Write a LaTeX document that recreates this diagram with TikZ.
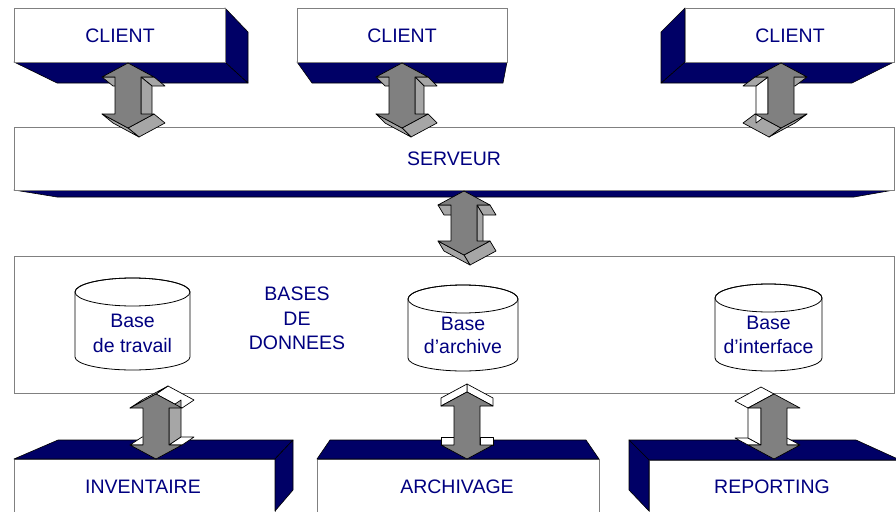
\documentclass[tikz,border=0pt]{standalone}
\usepackage{fontspec}
\setmainfont{Liberation Sans}
\definecolor{navy}{RGB}{0,0,128}
\definecolor{darkface}{RGB}{0,0,102}
\definecolor{boxline}{RGB}{128,128,128}
\definecolor{frontgray}{RGB}{128,128,128}
\definecolor{facegray}{RGB}{166,166,166}
\tikzset{
 lbl/.style={text=navy,font=\fontsize{19.5}{23}\selectfont,inner sep=0pt,anchor=base},
 frontface/.style={fill=white,draw=boxline,line width=0.9pt},
 darkside/.style={fill=darkface,draw=black,line width=0.6pt,line join=round},
 arrline/.style={draw=black,line width=0.7pt,line join=round},
 cyl/.style={fill=white,draw=black,line width=0.8pt}
}
\def\aHw{26}\def\aSw{13}\def\aHl{14}
\newcommand\afface[4]{%
  \pgfmathsetmacro\afnx{(#4)-(#2)}%
  \pgfmathsetmacro\afny{(#1)-(#3)}%
  \pgfmathsetmacro\afdot{\afnx*(\adx)+\afny*(\ady)}%
  \ifdim\afdot pt>0.01pt
    \pgfmathsetmacro\afwhite{((\afny+0.01<0)||((abs(\afny)<0.01)&&(\afnx<0)))?1:0}%
    \ifdim\afwhite pt>0.5pt \def\afcol{white}\else\def\afcol{facegray}\fi
    \filldraw[fill=\afcol,arrline] (#1,#2) -- (#3,#4) -- ({#3+\adx},{#4+\ady}) -- ({#1+\adx},{#2+\ady}) -- cycle;
  \fi}
\newcommand\dblarrow[5]{%
  \def\adx{#4}\def\ady{#5}%
  \pgfmathsetmacro\aL{#1-\aHw}\pgfmathsetmacro\aR{#1+\aHw}%
  \pgfmathsetmacro\asL{#1-\aSw}\pgfmathsetmacro\asR{#1+\aSw}%
  \pgfmathsetmacro\aYa{#2+\aHl}\pgfmathsetmacro\aYb{#3-\aHl}%
  \afface{#1}{#2}{\aR}{\aYa}%
  \afface{\aR}{\aYa}{\asR}{\aYa}%
  \afface{\asR}{\aYa}{\asR}{\aYb}%
  \afface{\asR}{\aYb}{\aR}{\aYb}%
  \afface{\aR}{\aYb}{#1}{#3}%
  \afface{#1}{#3}{\aL}{\aYb}%
  \afface{\aL}{\aYb}{\asL}{\aYb}%
  \afface{\asL}{\aYb}{\asL}{\aYa}%
  \afface{\asL}{\aYa}{\aL}{\aYa}%
  \afface{\aL}{\aYa}{#1}{#2}%
  \filldraw[fill=frontgray,arrline] (#1,#2) -- (\aR,\aYa) -- (\asR,\aYa) -- (\asR,\aYb) -- (\aR,\aYb) -- (#1,#3) -- (\aL,\aYb) -- (\asL,\aYb) -- (\asL,\aYa) -- (\aL,\aYa) -- cycle;
}
% cylinder: cx, rx, ytop, ybot
\newcommand\dbcyl[4]{%
  \pgfmathsetmacro\cyL{#1-#2}\pgfmathsetmacro\cyR{#1+#2}%
  \path[cyl] (\cyL,#3) -- (\cyL,#4) arc[start angle=180,end angle=360,x radius=#2pt,y radius=13pt] -- (\cyR,#3) arc[start angle=0,end angle=180,x radius=#2pt,y radius=14pt] -- cycle;
  \draw[line width=0.8pt] (#1,#3) ellipse[x radius=#2pt,y radius=14pt];
}
\begin{document}
\begin{tikzpicture}[x=1pt,y=-1pt]
\useasboundingbox (0,0) rectangle (896,511);
\clip (0,0) rectangle (896,511);
% ---------- clients
\path[darkside] (14,62) -- (225,62) -- (248,83) -- (57,83) -- cycle;
\path[darkside] (225,8) -- (248,32) -- (248,83) -- (225,62) -- cycle;
\path[frontface] (14,8) rectangle (225,62);
\node[lbl] (client1) at (120,42) {CLIENT};

\path[darkside] (297,62) -- (507,62) -- (503,83) -- (312,83) -- cycle;
\path[frontface] (297,8) rectangle (507,62);
\node[lbl] (client2) at (402,42) {CLIENT};

\path[darkside] (685,62) -- (894,62) -- (852,83) -- (661,83) -- cycle;
\path[darkside] (685,8) -- (661,32) -- (661,83) -- (685,62) -- cycle;
\path[frontface] (685,8) rectangle (894,62);
\node[lbl] (client3) at (790,42) {CLIENT};

% ---------- server
\path[darkside] (14,190) -- (894,190) -- (854,197) -- (57,197) -- cycle;
\path[frontface] (14,127) rectangle (894,190);
\node[lbl] (serveur) at (454,165) {SERVEUR};

% ---------- databases
\path[frontface] (14,256) rectangle (894,393);
\node[lbl] (bd1) at (297,300) {BASES};
\node[lbl] (bd2) at (297,325) {DE};
\node[lbl] (bd3) at (297,349) {DONNEES};

\dbcyl{132.5}{57.5}{292}{357}
\node[lbl] (trav1) at (132.5,327) {Base};
\node[lbl] (trav2) at (132.5,352) {de travail};

\dbcyl{463}{55}{299}{358}
\node[lbl] (arch1) at (463,330) {Base};
\node[lbl] (arch2) at (463,353) {d’archive};

\dbcyl{768.5}{53.5}{298}{358}
\node[lbl] (int1) at (768.5,329) {Base};
\node[lbl] (int2) at (768.5,353) {d’interface};

% ---------- bottom boxes
\path[frontface] (14,459) rectangle (275,530);
\path[darkside] (14,459) -- (58,440) -- (293,440) -- (275,459) -- cycle;
\path[darkside] (275,459) -- (293,440) -- (293,490) -- (275,511) -- cycle;
\node[lbl] (inventaire) at (143,493) {INVENTAIRE};

\path[frontface] (317,459) rectangle (599,530);
\path[darkside] (317,459) -- (330,440) -- (586,440) -- (599,459) -- cycle;
\node[lbl] (archivage) at (457,493) {ARCHIVAGE};

\path[frontface] (649,460) rectangle (900,530);
\path[darkside] (649,460) -- (629,440) -- (856,440) -- (900,460) -- cycle;
\path[darkside] (649,460) -- (629,440) -- (629,490) -- (649,511) -- cycle;
\node[lbl] (reporting) at (772,493) {REPORTING};

% ---------- 3D double arrows
\dblarrow{128}{63}{128}{11}{9}
\dblarrow{402}{63}{128}{9}{9}
\dblarrow{781}{63}{128}{-12}{9}
\dblarrow{464}{191}{255}{6}{10}
\dblarrow{156}{394}{459}{12}{-8}
\dblarrow{467}{392}{459}{0}{-8}
\dblarrow{774}{394}{459}{-13}{-7}
\end{tikzpicture}
\end{document}
